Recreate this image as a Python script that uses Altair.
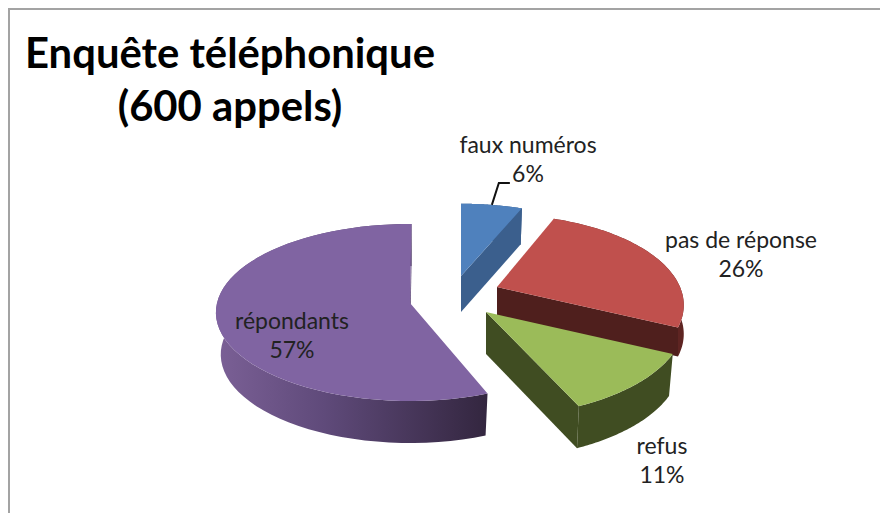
import math
import altair as alt
import pandas as pd

# ---- data ----
categories = ["faux numéros", "pas de réponse", "refus", "répondants"]
shares = [6, 26, 11, 57]
title_lines = ["Enquête téléphonique", "(600 appels)"]

# ---- drawing style ----
top_colors = ["#4f81bd", "#c0504d", "#9bbb59", "#8064a2"]
face_colors = ["#3b5f8d", "#4f1f1d", "#404d22", "#5b4776"]
wall_colors = ["#3b5f8d", "#5e2422", "#404d22", None]
purple_stops = [("#7b6096", 0.0), ("#5f4a7a", 0.4), ("#33263f", 1.0)]

# perspective model of each exploded slice, in page pixels
apex = [(461, 276), (497, 287), (486, 312), (410, 303)]
rad_x = [182, 183, 197, 193]
rad_y = [80, 87, 94, 87.5]
persp = [0.107, 0.2, 0.107, 0.107]
depth = [36, 29, 42, 42]
floor_scale = [0.98, 1.0, 0.98, 0.975]
angle_nudge = [(0, 0), (0, 0), (0, 0), (4, 0.5)]
label_pos = [(528, 146), (741, 241), (662, 447), (292, 322)]

X_DOM, Y_DOM = [8, 880], [8, 513]
WIDTH, HEIGHT = X_DOM[1] - X_DOM[0], Y_DOM[1] - Y_DOM[0]
x_enc = alt.X("x:Q", scale=alt.Scale(domain=X_DOM), axis=None)
y_enc = alt.Y("y:Q", scale=alt.Scale(domain=[Y_DOM[1], Y_DOM[0]]), axis=None)


def rim(i, deg, lower=False):
    t = math.radians(deg)
    ux, uy = math.sin(t), math.cos(t)
    s = 1 / (1 + persp[i] * uy)
    f = floor_scale[i] if lower else 1
    return (
        apex[i][0] + rad_x[i] * ux * s * f,
        apex[i][1] - rad_y[i] * uy * s + (depth[i] if lower else 0),
    )


def poly(points, fill):
    df = pd.DataFrame(points, columns=["x", "y"])
    df["i"] = range(len(df))
    return (
        alt.Chart(df)
        .mark_line(fill=fill, filled=True, strokeWidth=0, interpolate="linear-closed")
        .encode(x=x_enc, y=y_enc, order="i:Q")
    )


def sweep(a, b, n=60):
    return [a + (b - a) * k / n for k in range(n + 1)]


layers = []
cum = 0
spans = []
for s in shares:
    spans.append((cum * 3.6, (cum + s) * 3.6))
    cum += s

purple_gradient = alt.LinearGradient(
    gradient="linear",
    stops=[alt.GradientStop(color=c, offset=o) for c, o in purple_stops],
    x1=0, x2=1, y1=0, y2=0,
)

for i in [3, 0, 1, 2]:
    a = spans[i][0] + angle_nudge[i][0]
    b = spans[i][1] + angle_nudge[i][1]
    arc = sweep(a, b)
    # outer wall
    wall = [rim(i, d) for d in arc] + [rim(i, d, True) for d in reversed(arc)]
    layers.append(poly(wall, wall_colors[i] or purple_gradient))
    # cut face at the end of the slice
    tip = apex[i]
    face = [tip, rim(i, b), rim(i, b, True), (tip[0], tip[1] + depth[i])]
    layers.append(poly(face, face_colors[i]))
    # top face
    layers.append(poly([tip] + [rim(i, d) for d in arc], top_colors[i]))

# frame of the chart area
frame_df = pd.DataFrame({"x": [9, 9, X_DOM[1]], "y": [Y_DOM[1], 9, 9], "i": [0, 1, 2]})
layers.append(
    alt.Chart(frame_df)
    .mark_line(color="#a3a3a3", strokeWidth=2)
    .encode(x=x_enc, y=y_enc, order="i:Q")
)

# leader line of the small slice, from its rim to its label
lx, ly = rim(0, sum(spans[0]) / 2)
leader = pd.DataFrame(
    {"x": [lx, lx + 7, lx + 18], "y": [ly, ly - 22, ly - 22], "i": [0, 1, 2]}
)
layers.append(
    alt.Chart(leader)
    .mark_line(color="#111111", strokeWidth=2)
    .encode(x=x_enc, y=y_enc, order="i:Q")
)

# labels
LINE = 29
rows = []
for name, s, (px, py) in zip(categories, shares, label_pos):
    rows.append({"x": px, "y": py, "t": name})
    rows.append({"x": px, "y": py + LINE, "t": f"{s}%"})
layers.append(
    alt.Chart(pd.DataFrame(rows))
    .mark_text(font="Lato", fontSize=23, color="#222222", align="center", baseline="middle")
    .encode(x=x_enc, y=y_enc, text="t:N")
)

chart = (
    alt.layer(*layers)
    .properties(
        width=WIDTH,
        height=HEIGHT,
        padding=0,
        autosize=alt.AutoSizeParams(type="none"),
        title=alt.TitleParams(
            text=title_lines,
            anchor="start",
            align="center",
            baseline="top",
            dx=225,
            dy=129,
            font="Lato",
            fontSize=41.8,
            fontWeight="bold",
            lineHeight=53,
            color="#000000",
        ),
    )
    .configure_view(stroke=None)
    .configure(background="#ffffff")
)

chart.save("out.html", embed_options={"renderer": "svg", "actions": False})
